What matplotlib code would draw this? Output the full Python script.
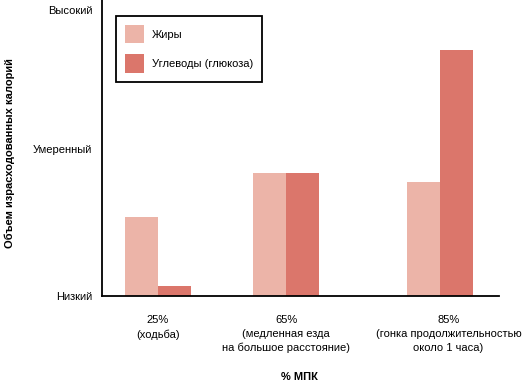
import matplotlib.pyplot as plt
import numpy as np

plt.rcParams['font.family'] = ['Liberation Sans Narrow', 'Liberation Sans', 'DejaVu Sans']

# Данные (шкала 0 = низкий, 1 = высокий)
groups = ["25%\n(ходьба)",
          "65%\n(медленная езда\nна большое расстояние)",
          "85%\n(гонка продолжительностью\nоколо 1 часа)"]
fat = [0.276, 0.43, 0.40]
carbs = [0.035, 0.43, 0.86]
level_ticks = [0.0, 0.515, 1.0]
level_labels = ["Низкий", "Умеренный", "Высокий"]

col_fat = "#ECB4A8"
col_carb = "#DB766B"

x = np.array([0, 1, 2.2])
w = 0.258

fig = plt.figure(figsize=(5.22, 3.83), dpi=100)
ax = fig.add_axes([0.1954, 0.2272, 0.7606, 0.7728])

ax.bar(x - w / 2, fat, w, color=col_fat, label="Жиры")
ax.bar(x + w / 2, carbs, w, color=col_carb, label="Углеводы (глюкоза)")

ax.set_xlim(-0.4375, 2.664)
ax.set_ylim(0, 1.035)

ax.set_yticks(level_ticks)
ax.set_yticklabels(level_labels, fontsize=8)
ax.set_xticks(x + np.array([0, 0, 0.07]))
ax.set_xticklabels(groups, fontsize=8, linespacing=1.45)
ax.tick_params(axis='both', length=0)
ax.tick_params(axis='x', pad=14)
ax.tick_params(axis='y', pad=7)

for s in ["top", "right"]:
    ax.spines[s].set_visible(False)
for s in ["left", "bottom"]:
    ax.spines[s].set_linewidth(1.3)

fig.text(0.018, 0.60, "Объем израсходованных калорий", rotation=90,
         ha='center', va='center', fontsize=8, fontweight='bold')
fig.text(0.573, 0.016, "% МПК", ha='center', va='center', fontsize=8, fontweight='bold')

leg = ax.legend(loc='upper left', bbox_to_anchor=(0.035, 0.946), fontsize=8,
                fancybox=False, edgecolor='black', framealpha=1,
                handlelength=1.75, handleheight=2.2, labelspacing=0.95,
                borderpad=0.8, handletextpad=0.7, borderaxespad=0)
leg.get_frame().set_linewidth(1.3)

fig.savefig("out.png", dpi=100)
